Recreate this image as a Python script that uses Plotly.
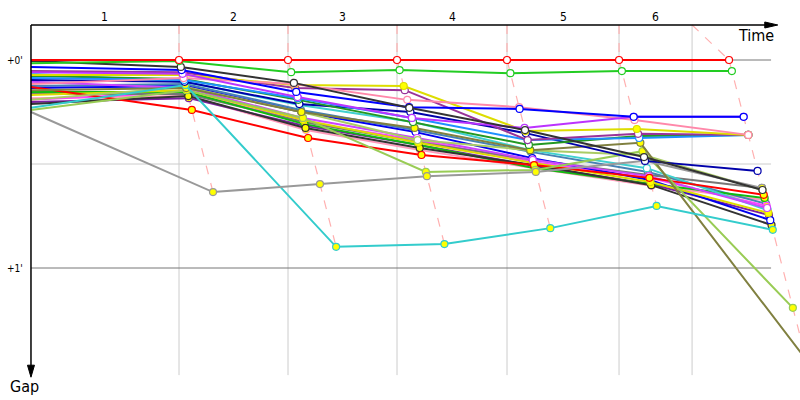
"""Race gap chart: gap to leader at each lap crossing, time running left to right."""
import plotly.graph_objects as go

# leader's crossing time at laps 1..6 (s) and the end-of-race time (s)
leader_times = [165.8, 287.9, 410.0, 533.2, 658.7, 781.9]
race_end = 740.5
lap_labels = ["1", "2", "3", "4", "5", "6"]

# one entry per car, drawn in this order (leader last, on top)
car_colors = [
    "#ff99bb", "#7a1fa2", "#4682b4", "#ff44ff", "#777777", "#11bb11", "#40d0d0",
    "#333333", "#0000ee", "#dddd00", "#cc44ff", "#ff0000", "#aacc66", "#99cc55",
    "#808040", "#33cccc", "#999999", "#0000aa", "#229922", "#1e90ff", "#993399",
    "#dddd00", "#ff88aa", "#bb33ff", "#0000ff", "#333333", "#22cc22", "#ff0000",
]
marker_fill = [
    "yellow", "yellow", "white", "yellow", "white", "yellow", "white",
    "yellow", "white", "yellow", "white", "yellow", "white", "yellow",
    "yellow", "yellow", "yellow", "white", "white", "white", "white",
    "yellow", "white", "white", "white", "white", "white", "white",
]

# gap to the leader in seconds: on the grid, then at laps 1..6
gap_start = [11.0, 12.1, 7.5, 11.5, 9.8, 9.2, 4.0, 12.7, 8.1, 10.1, 6.3, 7.8, 11.5, 14.4,
             8.7, 13.8, 15.0, 5.8, 4.6, 5.2, 3.2, 4.3, 6.9, 3.5, 2.0, 0.3, 0.9, 0.0]
gap_lap1 = [10.4, 11.0, 6.9, 9.2, 9.8, 9.2, 6.3, 10.4, 7.5, 8.7, 8.1, 14.4, 7.8, 8.7,
            8.1, 7.2, 38.1, 6.3, 5.5, 5.8, 3.5, 4.3, 5.2, 4.0, 2.9, 2.0, 0.3, 0.0]
gap_lap2 = [20.2, 19.0, 14.4, 17.9, 17.9, 18.5, 13.0, 19.6, 15.0, 17.3, 16.7, 22.5, 15.0, 16.7,
            15.0, 53.9, 35.8, 12.7, 11.5, 11.0, 8.1, 7.2, 6.9, 10.7, 9.2, 6.6, 3.5, 0.0]
gap_lap3 = [26.0, 24.5, 20.2, 23.1, 23.7, 24.5, 17.9, 25.4, 20.8, 23.9, 22.5, 27.4, 23.1, 32.3,
            19.6, 53.1, 33.5, 15.0, 17.9, 16.7, 8.7, 7.5, 11.5, 16.7, 13.6, 13.8, 2.9, 0.0]
gap_lap4 = [31.2, 30.6, 26.5, 29.4, 28.8, 31.2, 26.0, 30.3, 28.3, 29.7, 28.8, 30.3, 26.0, 31.7,
            26.0, 48.5, 32.3, 21.1, 24.5, 23.1, 23.1, 20.5, 13.6, 19.6, 14.1, 20.2, 3.8, 0.0]
gap_lap5 = [36.3, 35.8, 32.3, 34.0, 33.2, 35.8, 31.2, 36.1, 34.6, 35.2, 33.5, 34.0, 27.4, 26.3,
            23.9, 42.1, 29.1, 29.1, 21.9, 22.5, 21.3, 19.9, 17.3, 16.4, 16.4, 28.0, 3.2, 0.0]
gap_lap6 = [40.4, 44.7, 41.5, 42.1, 36.9, 39.8, 43.3, 47.6, 46.2, 44.1, 42.7, 38.9, 37.5, 71.5,
            86.5, 49.0, 36.9, 32.0, 21.6, 21.6, 21.6, 21.6, 21.6, 16.4, 16.4, 37.5, 3.2, 0.0]

lap_gaps = [gap_lap1, gap_lap2, gap_lap3, gap_lap4, gap_lap5, gap_lap6]

AXIS_GAP = -10.1      # where the time axis sits
GRID_BOTTOM = 90.9
LINE_RIGHT = 829.0
FONT = "DejaVu Sans Condensed, DejaVu Sans, sans-serif"

fig = go.Figure()

# lap crossing lines (dashed), from the top axis down to the slowest car
for i, t in enumerate(leader_times):
    top_x = leader_times[i] if i < 5 else race_end
    gmax = max(lap_gaps[i])
    fig.add_trace(go.Scatter(
        x=[top_x, t, t + gmax], y=[AXIS_GAP, 0, gmax], mode="lines",
        line=dict(color="#ffb0b0", width=1.2, dash="dash"),
        hoverinfo="skip", showlegend=False,
    ))

for j, color in enumerate(car_colors):
    gaps = [lg[j] for lg in lap_gaps]
    xs = [0.0] + [t + g for t, g in zip(leader_times, gaps)]
    ys = [gap_start[j]] + gaps
    fig.add_trace(go.Scatter(
        x=xs, y=ys, mode="lines",
        line=dict(color=color, width=2),
        hoverinfo="skip", showlegend=False,
    ))
    fig.add_trace(go.Scatter(
        x=xs[1:], y=ys[1:], mode="markers",
        marker=dict(size=7, color=marker_fill[j], line=dict(color=color, width=1.2)),
        hovertemplate="%{y:.1f}s<extra></extra>", showlegend=False,
    ))

shapes = []
# vertical lap grid
for x in leader_times[:5] + [race_end]:
    shapes.append(dict(type="line", x0=x, x1=x, y0=AXIS_GAP, y1=GRID_BOTTOM,
                       line=dict(color="#cccccc", width=1), layer="below"))
# gap reference lines
shapes.append(dict(type="line", x0=0, x1=LINE_RIGHT, y0=30, y1=30,
                   line=dict(color="#cccccc", width=1), layer="below"))
for g in (0, 60):
    shapes.append(dict(type="line", x0=0, x1=LINE_RIGHT, y0=g, y1=g,
                       line=dict(color="#777777", width=1), layer="below"))
# axes with arrowheads
shapes.append(dict(type="line", x0=0, x1=829, y0=AXIS_GAP, y1=AXIS_GAP,
                   line=dict(color="black", width=1.5)))
shapes.append(dict(type="line", x0=0, x1=0, y0=AXIS_GAP, y1=89.5,
                   line=dict(color="black", width=1.5)))
shapes.append(dict(type="path", xsizemode="pixel", ysizemode="pixel",
                   xanchor=836.5, yanchor=AXIS_GAP, path="M -13,-3 L 0,0 L -13,3 Z",
                   fillcolor="black", line=dict(color="black", width=1)))
shapes.append(dict(type="path", xsizemode="pixel", ysizemode="pixel",
                   xanchor=0, yanchor=91.5, path="M -3.5,12 L 0,0 L 3.5,12 Z",
                   fillcolor="black", line=dict(color="black", width=1)))

annotations = []
bounds = [0.0] + leader_times[:5] + [race_end]
for k, lab in enumerate(lap_labels):
    annotations.append(dict(x=(bounds[k] + bounds[k + 1]) / 2, y=-12.4, text=lab,
                            showarrow=False, font=dict(size=12, color="black", family=FONT)))
annotations.append(dict(x=834, y=-7.0, text="Time", xanchor="right", showarrow=False,
                        font=dict(size=16, color="black", family=FONT)))
annotations.append(dict(x=-7.5, y=94.3, text="Gap", showarrow=False,
                        font=dict(size=16, color="black", family=FONT)))
annotations.append(dict(x=-7, y=0, text="+0'", xanchor="right", showarrow=False,
                        font=dict(size=10, color="black", family=FONT)))
annotations.append(dict(x=-7, y=60, text="+1'", xanchor="right", showarrow=False,
                        font=dict(size=10, color="black", family=FONT)))

fig.update_layout(
    width=800, height=400,
    margin=dict(l=0, r=0, t=0, b=0),
    paper_bgcolor="white", plot_bgcolor="white",
    xaxis=dict(range=[-34.7, 861.4], visible=False, fixedrange=True),
    yaxis=dict(range=[98.08, -17.31], visible=False, fixedrange=True),
    shapes=shapes, annotations=annotations,
    showlegend=False,
)

# the page's default body margin would shift the 800x400 figure by 8px
fig.write_html("out.html", config={"displayModeBar": False},
               post_script="document.body.style.margin='0';")
